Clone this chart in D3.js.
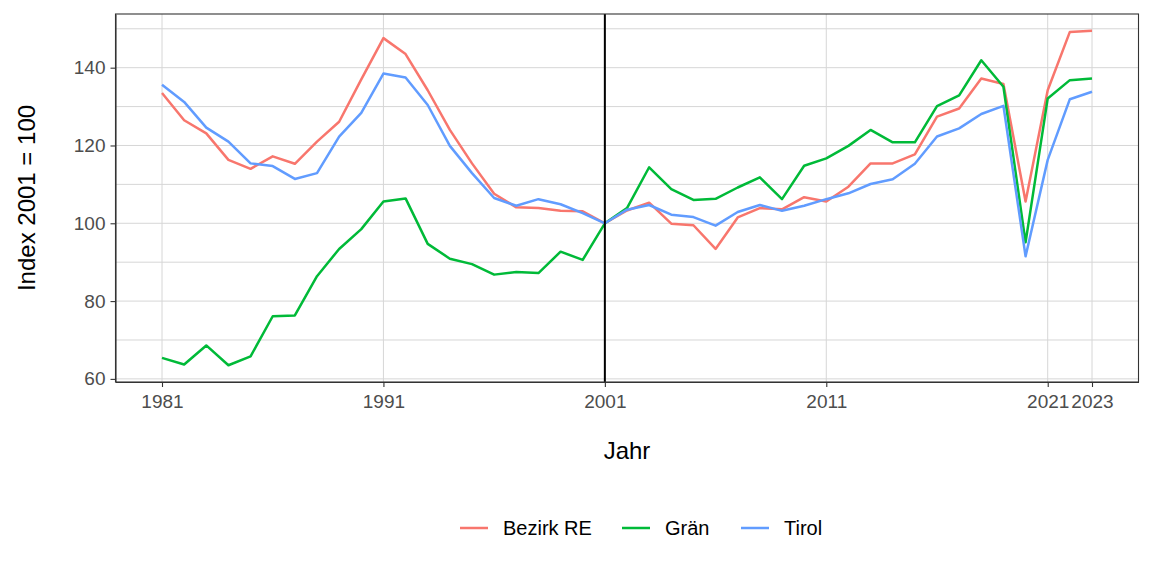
<!DOCTYPE html>
<html>
<head>
<meta charset="utf-8">
<script src="https://cdn.jsdelivr.net/npm/d3@7"></script>
<style>
  body { margin: 0; background: #fff; }
  svg { font-family: "Liberation Sans", Arial, sans-serif; }
</style>
</head>
<body>
<svg id="chart" width="1152" height="576"></svg>
<script>
var years = d3.range(1981, 2024);
var bezirkRE = [133.5, 126.5, 123.1, 116.3, 114.0, 117.2, 115.3, 121.0, 126.1, 137.0,
  147.6, 143.5, 134.2, 124.0, 115.4, 107.6, 104.1, 103.9, 103.2, 103.1,
  100.0, 103.3, 105.3, 99.9, 99.5, 93.4, 101.5, 103.9, 103.6, 106.7,
  105.6, 109.4, 115.4, 115.4, 117.7, 127.4, 129.5, 137.2, 135.8, 105.6,
  134.2, 149.2, 149.5];
var graen = [65.4, 63.7, 68.6, 63.5, 65.8, 76.1, 76.3, 86.4, 93.4, 98.5,
  105.6, 106.4, 94.7, 90.9, 89.5, 86.8, 87.5, 87.2, 92.7, 90.6,
  100.0, 103.9, 114.4, 108.8, 106.0, 106.3, 109.2, 111.8, 106.2, 114.8,
  116.7, 119.9, 124.0, 120.8, 120.8, 130.1, 132.9, 141.9, 135.1, 95.1,
  132.1, 136.8, 137.2];
var tirol = [135.6, 131.2, 124.6, 121.0, 115.4, 114.7, 111.4, 112.9, 122.3, 128.4,
  138.5, 137.5, 130.4, 119.9, 112.9, 106.5, 104.5, 106.2, 104.9, 102.6,
  100.0, 103.5, 104.7, 102.2, 101.6, 99.4, 102.9, 104.7, 103.2, 104.5,
  106.2, 107.7, 110.1, 111.3, 115.3, 122.3, 124.4, 128.1, 130.2, 91.5,
  116.3, 131.9, 133.8];
var seriesNames = ["Bezirk RE", "Grän", "Tirol"];
var seriesColors = ["#F8766D", "#00BA38", "#619CFF"];
var xBreaks = [1981, 1991, 2001, 2011, 2021, 2023];
var yBreaks = [60, 80, 100, 120, 140];
var yMinor = [70, 90, 110, 130, 150];
var refYear = 2001;

var series = [bezirkRE, graen, tirol].map(function(vals, i) {
  return { name: seriesNames[i], color: seriesColors[i],
    values: vals.map(function(v, j) { return { year: years[j], value: v }; }) };
});

var panel = { left: 115.5, right: 1138.5, top: 14, bottom: 382 };
var svg = d3.select("#chart");

// ggplot-like 5% expansion
function expand(ext) {
  var pad = (ext[1] - ext[0]) * 0.05;
  return [ext[0] - pad, ext[1] + pad];
}
var allVals = [].concat(bezirkRE, graen, tirol);
var x = d3.scaleLinear().domain(expand(d3.extent(years))).range([panel.left, panel.right]);
var y = d3.scaleLinear().domain(expand(d3.extent(allVals))).range([panel.bottom, panel.top]);

var grid = svg.append("g");
grid.selectAll("line.hy")
  .data(yBreaks.concat(yMinor).filter(function(d) { return y(d) > panel.top && y(d) < panel.bottom; }))
  .enter().append("line")
  .attr("x1", panel.left).attr("x2", panel.right)
  .attr("y1", function(d) { return y(d); }).attr("y2", function(d) { return y(d); })
  .attr("stroke", "#d6d6d6").attr("stroke-width", 1);
grid.selectAll("line.vx")
  .data(xBreaks)
  .enter().append("line")
  .attr("y1", panel.top).attr("y2", panel.bottom)
  .attr("x1", function(d) { return x(d); }).attr("x2", function(d) { return x(d); })
  .attr("stroke", "#d6d6d6").attr("stroke-width", 1);

var line = d3.line()
  .x(function(d) { return x(d.year); })
  .y(function(d) { return y(d.value); });

svg.append("g").selectAll("path")
  .data(series)
  .enter().append("path")
  .attr("d", function(d) { return line(d.values); })
  .attr("fill", "none")
  .attr("stroke", function(d) { return d.color; })
  .attr("stroke-width", 2.5)
  .attr("stroke-linejoin", "round");

svg.append("line")
  .attr("x1", x(refYear)).attr("x2", x(refYear))
  .attr("y1", panel.top).attr("y2", panel.bottom)
  .attr("stroke", "#000").attr("stroke-width", 2);

// panel border
svg.append("rect")
  .attr("x", panel.left).attr("y", panel.top)
  .attr("width", panel.right - panel.left).attr("height", panel.bottom - panel.top)
  .attr("fill", "none").attr("stroke", "#333").attr("stroke-width", 1.1);

var xAxis = svg.append("g")
  .attr("transform", "translate(0," + panel.bottom + ")")
  .call(d3.axisBottom(x).tickValues(xBreaks).tickFormat(d3.format("d")).tickSizeInner(5).tickSizeOuter(0).tickPadding(8));
var yAxis = svg.append("g")
  .attr("transform", "translate(" + panel.left + ",0)")
  .call(d3.axisLeft(y).tickValues(yBreaks).tickSizeInner(5).tickSizeOuter(0).tickPadding(5));
[xAxis, yAxis].forEach(function(a) {
  a.select(".domain").attr("stroke", "#333").attr("stroke-width", 1.1);
  a.selectAll(".tick line").attr("stroke", "#333").attr("stroke-width", 1.1);
  a.selectAll(".tick text").attr("fill", "#4d4d4d").style("font-size", "19px")
    .style("font-family", "'Liberation Sans', Arial, sans-serif");
});

svg.append("text")
  .attr("x", (panel.left + panel.right) / 2).attr("y", 459)
  .attr("text-anchor", "middle").style("font-size", "24px").attr("fill", "#000")
  .text("Jahr");
svg.append("text")
  .attr("transform", "translate(35," + ((panel.top + panel.bottom) / 2) + ") rotate(-90)")
  .attr("text-anchor", "middle").style("font-size", "24px").attr("fill", "#000")
  .text("Index 2001 = 100");

// legend
var legendX = [460, 622, 741];
var legend = svg.append("g").selectAll("g")
  .data(series)
  .enter().append("g")
  .attr("transform", function(d, i) { return "translate(" + legendX[i] + ",528)"; });
legend.append("line")
  .attr("x1", 0).attr("x2", 28).attr("y1", 0).attr("y2", 0)
  .attr("stroke", function(d) { return d.color; }).attr("stroke-width", 2.5);
legend.append("text")
  .attr("x", 43).attr("y", 0).attr("dy", "0.35em")
  .style("font-size", "20px").attr("fill", "#000")
  .text(function(d) { return d.name; });
</script>
</body>
</html>
